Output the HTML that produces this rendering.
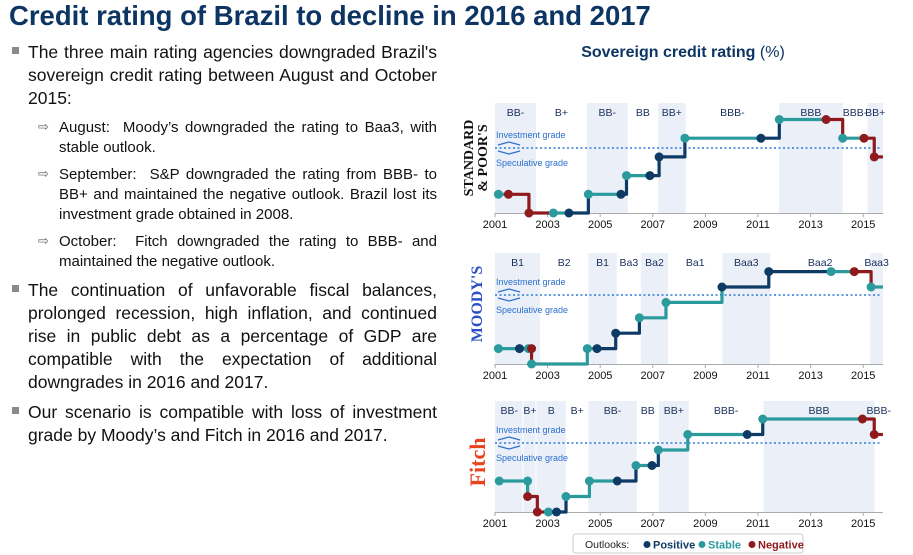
<!DOCTYPE html>
<html><head><meta charset="utf-8">
<style>
body{margin:0;width:913px;height:555px;background:#fff;position:relative;overflow:hidden;font-family:"Liberation Sans",sans-serif;}
.t{position:absolute;white-space:nowrap;}
.j{position:absolute;text-align:justify;text-align-last:justify;white-space:nowrap;}
.l1{font-size:17.5px;color:#111;height:22px;line-height:22px;left:28px;width:409px;}
.l2{font-size:15px;color:#111;height:20px;line-height:20px;left:59px;width:378px;}
.last{text-align-last:left;}
.bul{position:absolute;left:12px;width:7px;height:7px;background:#8a8a8a;}
.arr{position:absolute;left:38px;font-size:13px;color:#666;}
</style></head><body>
<div class="t" style="left:9px;top:0px;font-size:27.5px;font-weight:bold;color:#0d3563;line-height:32px;">Credit rating of Brazil to decline in 2016 and 2017</div>

<div class="bul" style="top:47px"></div>
<div class="j l1" style="top:41px">The three main rating agencies downgraded Brazil's</div>
<div class="j l1" style="top:64px">sovereign credit rating between August and October</div>
<div class="j l1 last" style="top:87px">2015:</div>

<div class="arr" style="top:119px">⇨</div>
<div class="j l2" style="top:118px">August:&nbsp; Moody’s downgraded the rating to Baa3, with</div>
<div class="j l2 last" style="top:138px">stable outlook.</div>
<div class="arr" style="top:166px">⇨</div>
<div class="j l2" style="top:165px">September:&nbsp; S&amp;P downgraded the rating from BBB- to</div>
<div class="j l2" style="top:185px">BB+ and maintained the negative outlook. Brazil lost its</div>
<div class="j l2 last" style="top:205px">investment grade obtained in 2008.</div>
<div class="arr" style="top:233px">⇨</div>
<div class="j l2" style="top:232px">October:&nbsp; Fitch downgraded the rating to BBB- and</div>
<div class="j l2 last" style="top:252px">maintained the negative outlook.</div>

<div class="bul" style="top:285px"></div>
<div class="j l1" style="top:279px">The continuation of unfavorable fiscal balances,</div>
<div class="j l1" style="top:302px">prolonged recession, high inflation, and continued</div>
<div class="j l1" style="top:325px">rise in public debt as a percentage of GDP are</div>
<div class="j l1" style="top:348px">compatible with the expectation of additional</div>
<div class="j l1 last" style="top:371px">downgrades in 2016 and 2017.</div>

<div class="bul" style="top:407px"></div>
<div class="j l1" style="top:401px">Our scenario is compatible with loss of investment</div>
<div class="j l1 last" style="top:424px">grade by Moody’s and Fitch in 2016 and 2017.</div>

<svg id="chart" width="913" height="555" style="position:absolute;left:0;top:0" xmlns="http://www.w3.org/2000/svg">
<text x="683" y="57" text-anchor="middle" font-family="Liberation Sans" font-size="16" font-weight="bold" fill="#0d3563">Sovereign credit rating <tspan font-weight="normal">(%)</tspan></text>
<text transform="translate(478,158) rotate(-90)" text-anchor="middle" font-family="Liberation Serif" font-weight="bold" font-size="14" fill="#111"><tspan x="0" y="-5">STANDARD</tspan><tspan x="0" y="9">&amp; POOR'S</tspan></text>
<text transform="translate(482,304) rotate(-90)" text-anchor="middle" font-family="Liberation Serif" font-weight="bold" font-size="16" fill="#2b4fc4">MOODY'S</text>
<text transform="translate(485,462) rotate(-90)" text-anchor="middle" font-family="Liberation Serif" font-weight="bold" font-size="22" fill="#e8431c">Fitch</text>
<g id="legend">
<rect x="573" y="534" width="230" height="19" rx="3" fill="#fff" stroke="#ccc"/>
<text x="585" y="548" font-family="Liberation Sans" font-size="10.5" fill="#222">Outlooks:</text>
<circle cx="647" cy="544.5" r="3.5" fill="#0e3a66"/><text x="653" y="548.5" font-family="Liberation Sans" font-size="11" font-weight="bold" fill="#0e3a66">Positive</text>
<circle cx="702" cy="544.5" r="3.5" fill="#2a9a9c"/><text x="708" y="548.5" font-family="Liberation Sans" font-size="11" font-weight="bold" fill="#2a9a9c">Stable</text>
<circle cx="752" cy="544.5" r="3.5" fill="#8e1a1e"/><text x="758" y="548.5" font-family="Liberation Sans" font-size="11" font-weight="bold" fill="#8e1a1e">Negative</text>
</g>
</svg>

<script>
// ---- S&P data ----
const spYears = [2001.13,2001.51,2002.29,2003.22,2003.81,2004.55,2005.79,2006.0,2006.89,2007.24,2008.22,2011.11,2011.81,2013.59,2014.22,2015.03,2015.42];
const spRatings = ['BB-','BB-','B+','B+','B+','BB-','BB-','BB','BB','BB+','BBB-','BBB-','BBB','BBB','BBB-','BBB-','BB+'];
const spOutlooks = ['S','N','N','S','P','S','P','S','P','P','S','P','S','N','S','N','N'];
const spScale = ['B+','BB-','BB','BB+','BBB-','BBB'];
const spBandStarts = [2001.0,2002.56,2004.49,2006.05,2007.2,2008.25,2011.8,2014.22,2015.16];
const spBandLabels = ['BB-','B+','BB-','BB','BB+','BBB-','BBB','BBB-','BB+'];
const spBandShade = [1,0,1,0,1,0,1,0,1];
// ---- Moody's data ----
const mdYears = [2001.13,2001.93,2002.27,2002.39,2002.39,2004.51,2004.88,2005.59,2006.49,2007.5,2009.63,2011.41,2013.78,2014.66,2015.3];
const mdRatings = ['B1','B1','B1','B1','B2','B1','B1','Ba3','Ba2','Ba1','Baa3','Baa2','Baa2','Baa2','Baa3'];
const mdOutlooks = ['S','P','S','N','S','S','P','P','S','S','P','P','S','N','S'];
const mdScale = ['B2','B1','Ba3','Ba2','Ba1','Baa3','Baa2'];
const mdBandStarts = [2001.0,2002.71,2004.55,2005.63,2006.55,2007.58,2009.65,2011.46,2015.27];
const mdBandLabels = ['B1','B2','B1','Ba3','Ba2','Ba1','Baa3','Baa2','Baa3'];
const mdBandShade = [1,0,1,0,1,0,1,0,1];
// ---- Fitch data ----
const ftYears = [2001.16,2002.24,2002.24,2002.61,2003.03,2003.34,2003.7,2004.59,2005.65,2006.36,2006.97,2007.21,2008.33,2010.59,2011.18,2014.97,2015.42];
const ftRatings = ['BB-','BB-','B+','B','B','B','B+','BB-','BB-','BB','BB','BB+','BBB-','BBB-','BBB','BBB','BBB-'];
const ftOutlooks = ['S','S','N','N','S','P','S','S','P','S','P','S','S','P','S','N','N'];
const ftScale = ['B','B+','BB-','BB','BB+','BBB-','BBB'];
const ftBandStarts = [2001.0,2002.08,2002.58,2003.7,2004.55,2006.39,2007.23,2008.37,2011.21,2015.43];
const ftBandLabels = ['BB-','B+','B','B+','BB-','BB','BB+','BBB-','BBB','BBB-'];
const ftBandShade = [1,1,1,0,1,0,1,0,1,0];
const tickYears = [2001,2003,2005,2007,2009,2011,2013,2015];
const endYear = 2015.75;

const NS = 'http://www.w3.org/2000/svg';
const svg = document.getElementById('chart');
const COL = {P:'#0e3a66', S:'#2a9a9c', N:'#8e1a1e'};
function xScale(yr){ return 495 + (yr-2001)*26.3; }
function mk(tag, attrs, parent){
  const e = document.createElementNS(NS, tag);
  for (const k in attrs) e.setAttribute(k, attrs[k]);
  (parent||svg).appendChild(e);
  return e;
}
function drawPanel(p){
  const g = mk('g', {});
  
  
  const yScale = r => p.base - p.scale.indexOf(r)*p.step;
  for (let i=0;i<p.bandStarts.length;i++){
    const x0 = xScale(p.bandStarts[i]);
    const x1 = xScale(i+1<p.bandStarts.length ? p.bandStarts[i+1] : endYear);
    if (p.bandShade[i]) {
      const r = mk('rect', {x:x0, y:p.top, width:x1-x0-(p.bandShade[i+1]?1:0), height:p.base-p.top, fill:'#ebf0f8'}, g);
      
      
    }
    const t = mk('text', {x:(x0+x1)/2, y:p.labelY+4, 'text-anchor':'middle', 'font-family':'Liberation Sans', 'font-size':'10.5', fill:'#1a2f5a'}, g);
    
    
    t.textContent = p.bandLabels[i];
  }
  mk('line', {x1:495, x2:883, y1:p.base+0.5, y2:p.base+0.5, stroke:'#aaa', 'stroke-width':1}, g);
  tickYears.forEach(y=>{
    const x = xScale(y);
    mk('line', {x1:x, x2:x, y1:p.base, y2:p.base+4, stroke:'#aaa'}, g);
    const t = mk('text', {x:x, y:p.base+15, 'text-anchor':'middle', 'font-family':'Liberation Sans', 'font-size':'11', fill:'#111'}, g);
    
    
    t.textContent = y;
  });
  const dl = mk('line', {x1:495, x2:880, y1:p.dashY, y2:p.dashY, stroke:'#2a7ad6', 'stroke-width':1.6, 'stroke-dasharray':'2,2.5'}, g);
  
  
  const it = mk('text', {x:496, y:p.dashY-10, 'font-family':'Liberation Sans', 'font-size':'9', fill:'#2a6fd0'}, g);
  
  
  it.textContent = 'Investment grade';
  const st = mk('text', {x:496, y:p.dashY+18, 'font-family':'Liberation Sans', 'font-size':'9', fill:'#2a6fd0'}, g);
  
  
  st.textContent = 'Speculative grade';
  mk('path', {d:`M498 ${p.dashY-3} L509 ${p.dashY-6} L520 ${p.dashY-3} M498 ${p.dashY+3} L509 ${p.dashY+6} L520 ${p.dashY+3}`, stroke:'#2a6fd0', 'stroke-width':1.2, fill:'none'}, g);
  const n = p.years.length;
  for (let i=0;i<n;i++){
    const x0 = xScale(p.years[i]), y0 = yScale(p.ratings[i]);
    let d;
    if (i<n-1){
      const x1 = xScale(p.years[i+1]), y1 = yScale(p.ratings[i+1]);
      d = `M${x0} ${y0} L${x1} ${y0} L${x1} ${y1}`;
    } else {
      d = `M${x0} ${y0} L${xScale(endYear)} ${y0}`;
    }
    const s = mk('path', {d:d, stroke:COL[p.outlooks[i]], 'stroke-width':3.2, fill:'none', 'stroke-linejoin':'round'}, g);
    
    
  }
  for (let i=0;i<n;i++){
    const c = mk('circle', {cx:xScale(p.years[i]), cy:yScale(p.ratings[i]), r:4.5, fill:COL[p.outlooks[i]]}, g);
    
    
  }
}
drawPanel({name:'sp', years:spYears, ratings:spRatings, outlooks:spOutlooks, scale:spScale, bandStarts:spBandStarts, bandLabels:spBandLabels, bandShade:spBandShade, top:103, base:213, step:18.7, dashY:148, labelY:112});
drawPanel({name:'moodys', years:mdYears, ratings:mdRatings, outlooks:mdOutlooks, scale:mdScale, bandStarts:mdBandStarts, bandLabels:mdBandLabels, bandShade:mdBandShade, top:253, base:364, step:15.4, dashY:295, labelY:262});
drawPanel({name:'fitch', years:ftYears, ratings:ftRatings, outlooks:ftOutlooks, scale:ftScale, bandStarts:ftBandStarts, bandLabels:ftBandLabels, bandShade:ftBandShade, top:401, base:512, step:15.5, dashY:443, labelY:410});
</script>
</body></html>
